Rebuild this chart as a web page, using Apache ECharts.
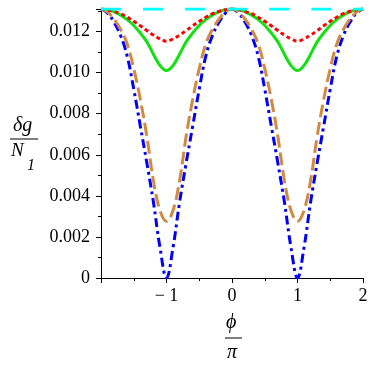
<!DOCTYPE html>
<html>
<head>
<meta charset="utf-8">
<script src="https://cdn.jsdelivr.net/npm/echarts@6/dist/echarts.min.js"></script>
<style>
  html, body { margin: 0; padding: 0; background: #fff; }
  #chart { width: 374px; height: 374px; }
</style>
</head>
<body>
<div id="chart"></div>
<script>
// phi / pi, step 0.1
const xs = [-2, -1.9, -1.8, -1.7, -1.6, -1.5, -1.4, -1.3, -1.2, -1.1, -1,
  -0.9, -0.8, -0.7, -0.6, -0.5, -0.4, -0.3, -0.2, -0.1, 0,
  0.1, 0.2, 0.3, 0.4, 0.5, 0.6, 0.7, 0.8, 0.9, 1,
  1.1, 1.2, 1.3, 1.4, 1.5, 1.6, 1.7, 1.8, 1.9, 2]

const blueVals = [0.0131, 0.0129, 0.01245, 0.0118, 0.0108, 0.0092, 0.0074, 0.0056, 0.0037, 0.0015, 0,
  0.0015, 0.0037, 0.0056, 0.0074, 0.0092, 0.0108, 0.0118, 0.01245, 0.0129, 0.0131,
  0.0129, 0.01245, 0.0118, 0.0108, 0.0092, 0.0074, 0.0056, 0.0037, 0.0015, 0,
  0.0015, 0.0037, 0.0056, 0.0074, 0.0092, 0.0108, 0.0118, 0.01245, 0.0129, 0.0131]

const brownVals = [0.0131, 0.01295, 0.0126, 0.0121, 0.0114, 0.0102, 0.0087, 0.0069, 0.00475, 0.0033, 0.00276,
  0.0033, 0.00475, 0.0069, 0.0087, 0.0102, 0.0114, 0.0121, 0.0126, 0.01295, 0.0131,
  0.01295, 0.0126, 0.0121, 0.0114, 0.0102, 0.0087, 0.0069, 0.00475, 0.0033, 0.00276,
  0.0033, 0.00475, 0.0069, 0.0087, 0.0102, 0.0114, 0.0121, 0.0126, 0.01295, 0.0131]

const greenVals = [0.0131, 0.01307, 0.01296, 0.0128, 0.01258, 0.0123, 0.01193, 0.0115, 0.0109, 0.01035, 0.0101,
  0.01035, 0.0109, 0.0115, 0.01193, 0.0123, 0.01258, 0.0128, 0.01296, 0.01307, 0.0131,
  0.01307, 0.01296, 0.0128, 0.01258, 0.0123, 0.01193, 0.0115, 0.0109, 0.01035, 0.0101,
  0.01035, 0.0109, 0.0115, 0.01193, 0.0123, 0.01258, 0.0128, 0.01296, 0.01307, 0.0131]

const redVals = [0.0131, 0.01306, 0.01298, 0.01287, 0.0127, 0.0125, 0.01228, 0.01205, 0.01183, 0.01165, 0.01153,
  0.01165, 0.01183, 0.01205, 0.01228, 0.0125, 0.0127, 0.01287, 0.01298, 0.01306, 0.0131,
  0.01306, 0.01298, 0.01287, 0.0127, 0.0125, 0.01228, 0.01205, 0.01183, 0.01165, 0.01153,
  0.01165, 0.01183, 0.01205, 0.01228, 0.0125, 0.0127, 0.01287, 0.01298, 0.01306, 0.0131]

const cyanX = [-2, 2]
const cyanVals = [0.0131, 0.0131]

const yTicks = ['0', '0.002', '0.004', '0.006', '0.008', '0.010', '0.012']

const serif = '"Liberation Serif", "DejaVu Serif", serif'

function pairs (x, y) {
  return x.map((v, i) => [v, y[i]])
}

function lineSeries (name, x, y, color, type, width) {
  return {
    name: name,
    type: 'line',
    data: pairs(x, y),
    smooth: 0.4,
    symbol: 'none',
    lineStyle: { color: color, width: width || 3, type: type },
    z: 2
  }
}

const chart = echarts.init(document.getElementById('chart'), null, { renderer: 'canvas' })

const option = {
  animation: false,
  grid: { left: 101, right: 11, top: 9, bottom: 96, containLabel: false },
  xAxis: {
    type: 'value',
    min: -2,
    max: 2,
    interval: 1,
    axisLine: { onZero: false, lineStyle: { color: '#000', width: 1 } },
    axisTick: { show: true, length: 5, inside: false, lineStyle: { color: '#000' } },
    minorTick: { show: true, splitNumber: 2, length: 3, lineStyle: { color: '#000' } },
    splitLine: { show: false },
    axisLabel: {
      color: '#000',
      fontFamily: serif,
      fontSize: 18,
      margin: 9,
      formatter: v => v === -2 ? '' : String(v).replace('-', '\u2212 ')
    }
  },
  yAxis: {
    type: 'value',
    min: 0,
    max: 0.0131,
    interval: 0.002,
    axisLine: { onZero: false, lineStyle: { color: '#000', width: 1 } },
    axisTick: { show: true, length: 5, lineStyle: { color: '#000' } },
    minorTick: { show: true, splitNumber: 2, length: 3, lineStyle: { color: '#000' } },
    splitLine: { show: false },
    axisLabel: {
      color: '#000',
      fontFamily: serif,
      fontSize: 18,
      margin: 11,
      showMaxLabel: false,
      formatter: v => {
        const i = Math.round(v / 0.002)
        return Math.abs(v - i * 0.002) < 1e-9 && yTicks[i] !== undefined ? yTicks[i] : ''
      }
    }
  },
  series: [
    lineSeries('blue', xs, blueVals, '#0000ff', [9, 4, 3, 4]),
    lineSeries('brown', xs, brownVals, '#d08a42', [13, 5]),
    lineSeries('green', xs, greenVals, '#14e014', 'solid'),
    lineSeries('red', xs, redVals, '#ff0000', [4, 3]),
    lineSeries('cyan', cyanX, cyanVals, '#00ffff', [20, 22])
  ],
  graphic: [
    // y axis title: delta g / N_1
    { type: 'text', left: 13, top: 116, style: { text: 'δg', fontFamily: serif, fontStyle: 'italic', fontSize: 20, fill: '#000' } },
    { type: 'line', shape: { x1: 10, y1: 139, x2: 38, y2: 139 }, style: { stroke: '#000', lineWidth: 1 } },
    { type: 'text', left: 11, top: 141, style: { text: 'N', fontFamily: serif, fontStyle: 'italic', fontSize: 19, fill: '#000' } },
    { type: 'text', left: 27, top: 158, style: { text: '1', fontFamily: serif, fontStyle: 'italic', fontSize: 16, fill: '#000' } },
    // x axis title: phi / pi
    { type: 'text', left: 226, top: 313, style: { text: '\u03d5', fontFamily: serif, fontStyle: 'italic', fontSize: 20, fill: '#000' } },
    { type: 'line', shape: { x1: 225, y1: 338, x2: 242, y2: 338 }, style: { stroke: '#000', lineWidth: 1 } },
    { type: 'text', left: 227, top: 343, style: { text: 'π', fontFamily: serif, fontStyle: 'italic', fontSize: 20, fill: '#000' } }
  ]
}

chart.setOption(option)
</script>
</body>
</html>
